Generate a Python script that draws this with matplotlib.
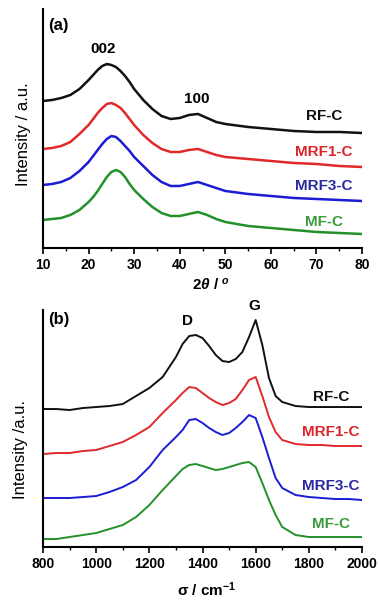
import matplotlib
matplotlib.use("Agg")
import matplotlib.pyplot as plt
from matplotlib.ticker import MultipleLocator

plt.rcParams['font.family'] = ['Liberation Sans', 'DejaVu Sans']
plt.rcParams['mathtext.fontset'] = 'custom'
plt.rcParams['mathtext.it'] = 'Liberation Sans:italic:bold'
plt.rcParams['mathtext.rm'] = 'Liberation Sans'
plt.rcParams['mathtext.bf'] = 'Liberation Sans:bold'

samples = ["RF-C", "MRF1-C", "MRF3-C", "MF-C"]
line_colors = ["#111111", "#e02a2a", "#1c1cd4", "#23902a"]
text_colors = ["#111111", "#d8262c", "#2a2aa0", "#3a9a3a"]

# XRD, 2theta (deg) and stacked intensity (a.u.)
two_theta = [10, 12, 14, 16, 18, 20, 21, 22, 23, 24, 25, 26, 27, 28, 29, 30,
             32, 34, 36, 38, 40, 42, 44, 46, 48, 50, 55, 60, 65, 70, 75, 80]
xrd_rf = [147, 148, 150, 153, 159, 168, 173, 178, 182, 184, 183, 181, 177, 172, 166, 159,
          148, 139, 132, 129, 130, 133, 134, 130, 126, 124, 121, 119, 117, 116, 116, 115]
xrd_mrf1 = [99, 100, 102, 106, 114, 123, 129, 135, 140, 144, 145, 143, 140, 135, 129, 123,
            113, 105, 99, 96, 96, 98, 99, 96, 93, 91, 89, 87, 85, 84, 82, 81]
xrd_mrf3 = [63, 64, 66, 70, 77, 86, 92, 98, 104, 109, 112, 111, 107, 102, 97, 91,
            82, 73, 66, 62, 62, 64, 66, 63, 60, 57, 54, 52, 50, 49, 48, 47]
xrd_mf = [28, 29, 30, 33, 38, 46, 51, 57, 64, 71, 76, 78, 76, 71, 64, 58,
          49, 41, 35, 32, 32, 34, 36, 33, 29, 26, 22, 20, 18, 16, 15, 14]

# Raman, shift (cm-1) and stacked intensity (a.u.)
raman_shift = [800, 850, 900, 950, 1000, 1050, 1100, 1150, 1200, 1250, 1300, 1325, 1350,
               1375, 1400, 1425, 1450, 1475, 1500, 1525, 1550, 1575, 1600, 1625, 1650,
               1675, 1700, 1750, 1800, 1850, 1900, 1950, 2000]
raman_rf = [138, 138, 137, 139, 140, 141, 143, 151, 159, 170, 190, 203, 211,
            212, 209, 201, 192, 186, 185, 188, 195, 210, 227, 202, 169,
            151, 145, 141, 140, 140, 140, 140, 140]
raman_mrf1 = [93, 94, 94, 96, 97, 101, 105, 112, 120, 134, 147, 154, 160,
              159, 154, 149, 145, 142, 144, 148, 157, 167, 170, 151, 130,
              115, 107, 103, 102, 102, 101, 101, 101]
raman_mrf3 = [49, 49, 49, 50, 51, 55, 60, 67, 80, 97, 110, 117, 127,
              128, 124, 119, 115, 112, 114, 119, 125, 132, 129, 110, 89,
              69, 59, 52, 50, 49, 48, 48, 47]
raman_mf = [8, 8, 10, 12, 14, 18, 22, 30, 42, 57, 71, 78, 82,
            83, 81, 79, 77, 78, 80, 82, 84, 85, 80, 64, 47,
            32, 20, 12, 10, 10, 10, 10, 10]

xrd_label_y = [132, 96, 62, 26]
raman_label_y = [150, 115, 61, 23]


def style_axis(ax):
    for side in ["top", "right"]:
        ax.spines[side].set_visible(False)
    for side in ["left", "bottom"]:
        ax.spines[side].set_linewidth(1.5)
    ax.set_yticks([])
    ax.tick_params(axis='x', which='major', direction='out', length=4, width=1.2,
                   labelsize=10, pad=3)
    ax.tick_params(axis='x', which='minor', direction='out', length=2.5, width=1.0)
    for lab in ax.get_xticklabels():
        lab.set_fontweight('bold')


fig = plt.figure(figsize=(3.78, 6), dpi=100)

# (a) XRD
ax1 = fig.add_axes([0.1138, 0.5867, 0.8439, 0.3983])
for ys, c in zip([xrd_rf, xrd_mrf1, xrd_mrf3, xrd_mf], line_colors):
    ax1.plot(two_theta, ys, color=c, lw=1.8)
ax1.set_xlim(10, 80)
ax1.set_ylim(0, 239)
ax1.xaxis.set_major_locator(MultipleLocator(10))
ax1.xaxis.set_minor_locator(MultipleLocator(5))
style_axis(ax1)
ax1.text(0.016, 0.933, "(a)", transform=ax1.transAxes, fontsize=12,
         fontweight='bold', ha='left', va='center')
ax1.text(23.2, 199, "002", fontsize=11, fontweight='bold', ha='center', va='center')
ax1.text(43.8, 149, "100", fontsize=11, fontweight='bold', ha='center', va='center')
for name, yv, c in zip(samples, xrd_label_y, text_colors):
    ax1.text(71.7, yv, name, color=c, fontsize=11, fontweight='bold',
             ha='center', va='center')
ax1.set_xlabel(r"2$\theta$ / $^{o}$", fontsize=11, fontweight='bold')
ax1.xaxis.set_label_coords(0.527, -0.155)
ax1.xaxis.label.set_va('center')
ax1.set_ylabel("Intensity / a.u.", fontsize=12)
ax1.yaxis.set_label_coords(-0.06, 0.477)
ax1.yaxis.label.set_va('center')

# (b) Raman
ax2 = fig.add_axes([0.1138, 0.0883, 0.8439, 0.395])
for ys, c in zip([raman_rf, raman_mrf1, raman_mrf3, raman_mf], line_colors):
    ax2.plot(raman_shift, ys, color=c, lw=1.4)
ax2.set_xlim(800, 2000)
ax2.set_ylim(0, 237)
ax2.xaxis.set_major_locator(MultipleLocator(200))
ax2.xaxis.set_minor_locator(MultipleLocator(100))
style_axis(ax2)
ax2.text(0.016, 0.958, "(b)", transform=ax2.transAxes, fontsize=12,
         fontweight='bold', ha='left', va='center')
ax2.text(1342, 226, "D", fontsize=11, fontweight='bold', ha='center', va='center')
ax2.text(1594, 241, "G", fontsize=11, fontweight='bold', ha='center', va='center')
for name, yv, c in zip(samples, raman_label_y, text_colors):
    ax2.text(1883, yv, name, color=c, fontsize=11, fontweight='bold',
             ha='center', va='center')
ax2.set_xlabel(r"σ / cm$^{\mathbf{-1}}$", fontsize=11, fontweight='bold')
ax2.xaxis.set_label_coords(0.514, -0.18)
ax2.xaxis.label.set_va('center')
ax2.set_ylabel("Intensity /a.u.", fontsize=12)
ax2.yaxis.set_label_coords(-0.072, 0.4135)
ax2.yaxis.label.set_va('center')

fig.savefig("out.png", dpi=100)
